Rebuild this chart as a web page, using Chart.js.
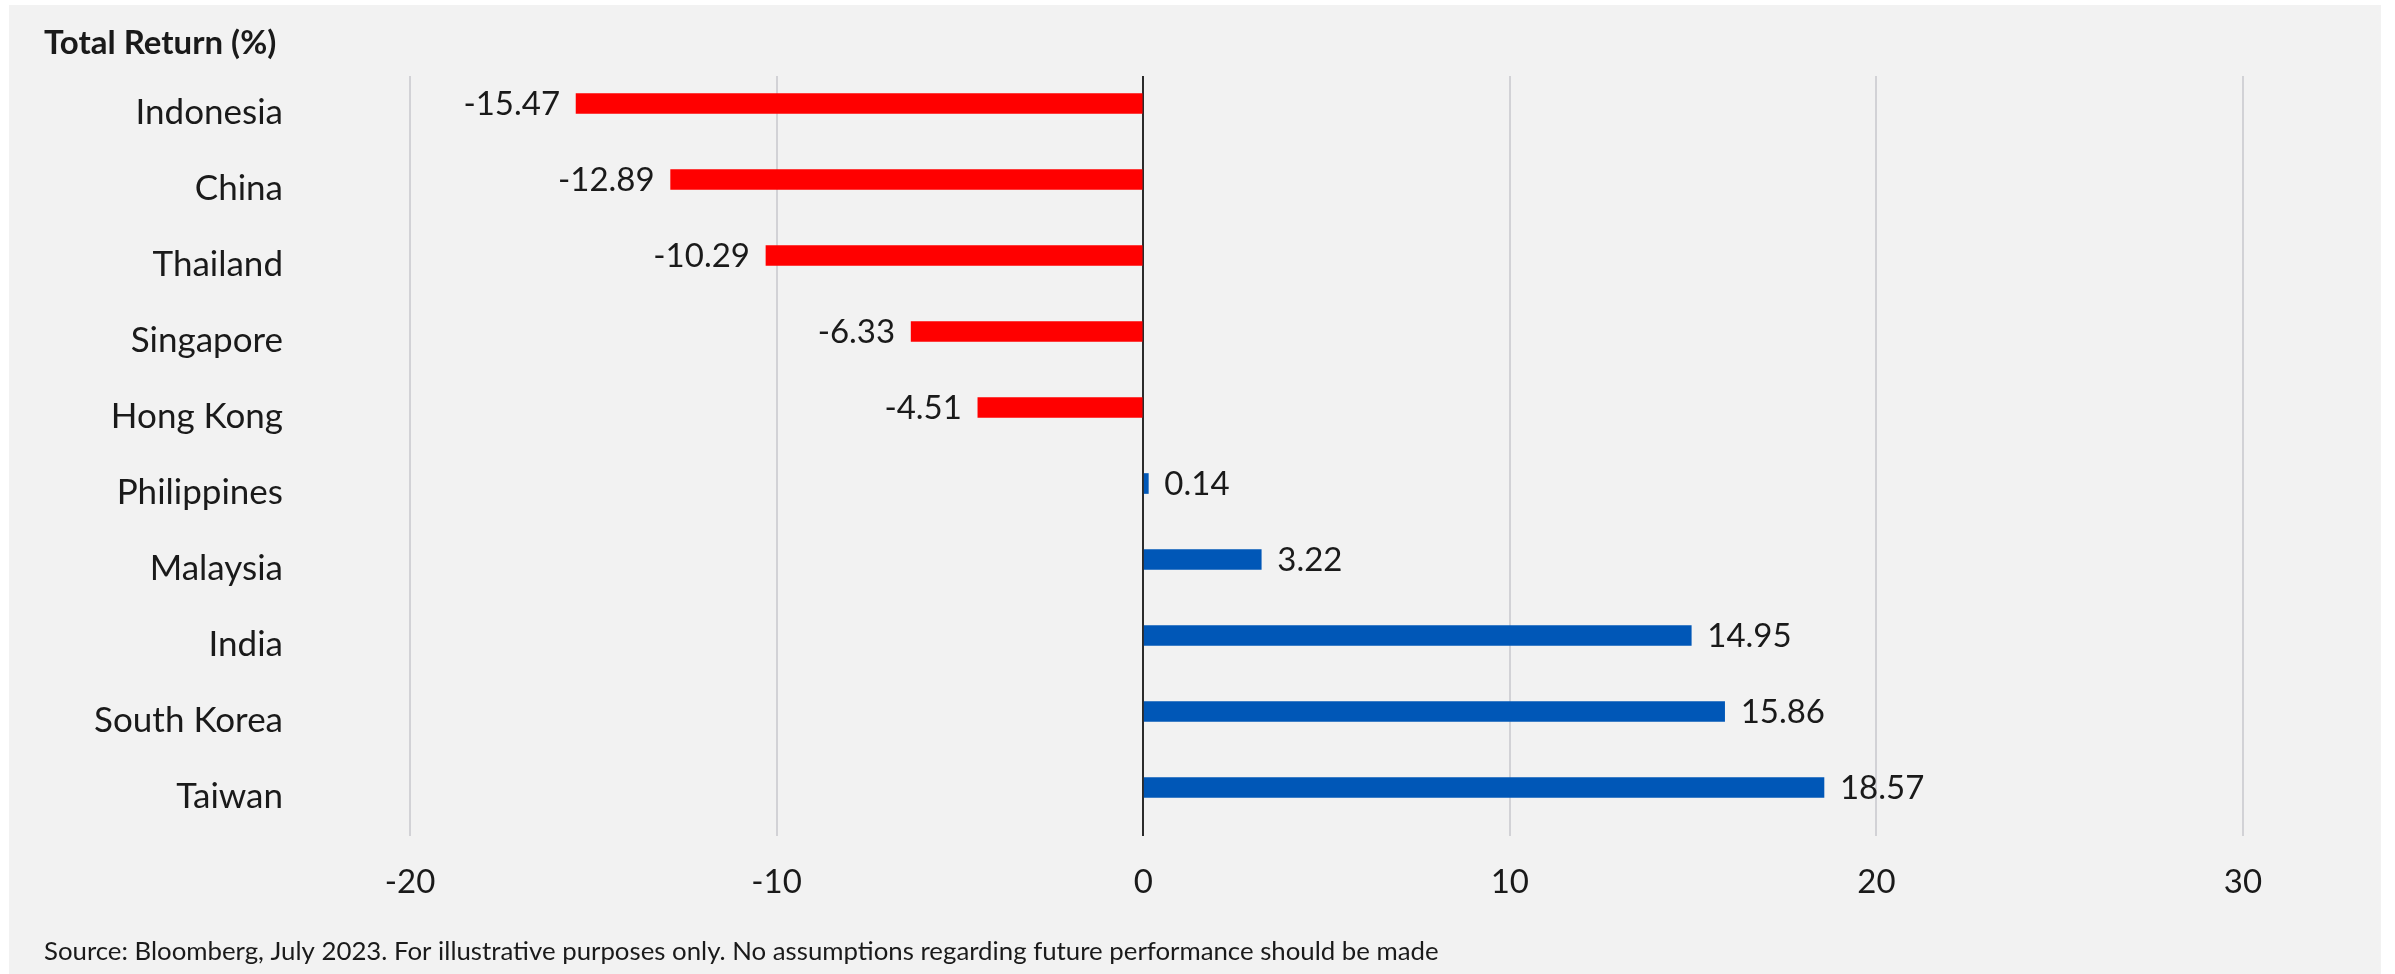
<!DOCTYPE html>
<html>
<head>
<meta charset="utf-8">
<script src="https://cdn.jsdelivr.net/npm/chart.js@4.4.0/dist/chart.umd.min.js"></script>
<style>
  html, body { margin: 0; padding: 0; background: #ffffff; }
  canvas { display: block; }
</style>
</head>
<body>
<canvas id="returnChart" width="2395" height="974"></canvas>
<script>
const categories = ['Indonesia', 'China', 'Thailand', 'Singapore', 'Hong Kong',
                    'Philippines', 'Malaysia', 'India', 'South Korea', 'Taiwan'];
const totalReturn = [-15.47, -12.89, -10.29, -6.33, -4.51, 0.14, 3.22, 14.95, 15.86, 18.57];
const xTicks = [-20, -10, 0, 10, 20, 30];

const titleText = 'Total Return (%)';
const sourceText = 'Source: Bloomberg, July 2023. For illustrative purposes only. No assumptions regarding future performance should be made';

const FONT = 'Lato, "Open Sans", sans-serif';
const TEXT = '#1a1a1a';

// grey panel behind everything, plus title and footnote
const panelPlugin = {
    id: 'panel',
    beforeDraw(chart) {
        const c = chart.ctx;
        c.save();
        c.fillStyle = '#f2f2f2';
        c.fillRect(9, 5, 2372, 969);
        c.fillStyle = TEXT;
        c.textAlign = 'left';
        c.textBaseline = 'alphabetic';
        c.font = 'bold 33px ' + FONT;
        c.fillText(titleText, 44, 54);
        c.font = '25.8px ' + FONT;
        c.fillText(sourceText, 44, 960);
        c.restore();
    }
};

// value labels at the end of each bar
const valueLabels = {
    id: 'valueLabels',
    afterDatasetsDraw(chart) {
        const c = chart.ctx;
        const meta = chart.getDatasetMeta(0);
        c.save();
        c.font = '33px ' + FONT;
        c.fillStyle = TEXT;
        c.textBaseline = 'middle';
        meta.data.forEach((bar, i) => {
            const v = totalReturn[i];
            if (v < 0) {
                c.textAlign = 'right';
                c.fillText(v.toFixed(2), bar.x - 16, bar.y + 1);
            } else {
                c.textAlign = 'left';
                c.fillText(v.toFixed(2), bar.x + 16, bar.y + 1);
            }
        });
        c.restore();
    }
};

const ctx = document.getElementById('returnChart').getContext('2d');
const chart = new Chart(ctx, {
    type: 'bar',
    data: {
        datasets: [{
            data: totalReturn.map((v, i) => ({ x: v, y: i })),
            backgroundColor: totalReturn.map(v => v < 0 ? '#ff0000' : '#0057b7'),
            barThickness: 20,
            borderWidth: 0
        }]
    },
    options: {
        indexAxis: 'y',
        responsive: false,
        animation: false,
        devicePixelRatio: 1,
        layout: { padding: { top: 76, right: 152, bottom: 0, left: 0 } },
        plugins: {
            legend: { display: false },
            tooltip: { enabled: false }
        },
        scales: {
            x: {
                type: 'linear',
                min: -20,
                max: 30,
                afterBuildTicks: s => { s.ticks = xTicks.map(v => ({ value: v })); },
                afterFit: s => { s.height = 138; s.paddingLeft = 0; s.paddingRight = 0; },
                border: { display: false },
                grid: {
                    drawTicks: false,
                    lineWidth: 2,
                    color: c => c.tick && c.tick.value === 0 ? '#2b2b2b' : '#d2d2d6'
                },
                ticks: {
                    padding: 27,
                    color: TEXT,
                    font: { family: FONT, size: 33 }
                }
            },
            y: {
                type: 'linear',
                reverse: true,
                offset: false,
                min: -0.362,
                max: 9.638,
                afterBuildTicks: s => { s.ticks = categories.map((c, i) => ({ value: i })); },
                afterFit: s => { s.width = 410; s.paddingTop = 0; s.paddingBottom = 0; },
                border: { display: false },
                grid: { display: false, drawTicks: false },
                ticks: {
                    padding: 127,
                    labelOffset: 9,
                    color: TEXT,
                    font: { family: FONT, size: 35 },
                    callback: v => categories[v]
                }
            }
        }
    },
    plugins: [panelPlugin, valueLabels]
});
</script>
</body>
</html>
